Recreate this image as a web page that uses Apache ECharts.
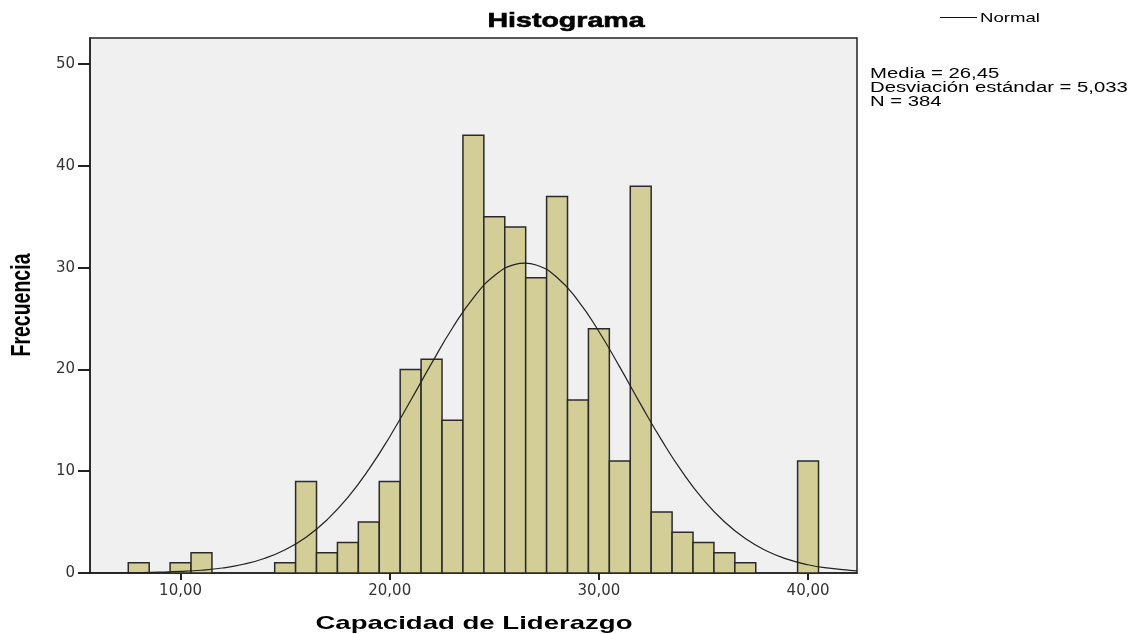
<!DOCTYPE html>
<html>
<head>
<meta charset="utf-8">
<script src="https://cdn.jsdelivr.net/npm/echarts@6/dist/echarts.min.js"></script>
<style>
  html, body { margin: 0; padding: 0; background: #fff; }
  #chart { width: 1132px; height: 634px; }
</style>
</head>
<body>
<div id="chart"></div>
<script>
// histogram bins (centre of each 1-unit bin) and counts
const binCenters = [8, 10, 11, 15, 16, 17, 18, 19, 20, 21, 22, 23, 24, 25, 26, 27, 28, 29, 30, 31, 32, 33, 34, 35, 36, 37, 40];
const binCounts = [1, 1, 2, 1, 9, 2, 3, 5, 9, 20, 21, 15, 43, 35, 34, 29, 37, 17, 24, 11, 38, 6, 4, 3, 2, 1, 11];

// normal curve
const curveX = [5.7, 6, 7, 8, 9, 10, 11, 12, 13, 14, 15, 16, 17, 18, 19, 20, 21, 22, 23, 24, 25, 26, 26.45, 27, 28, 29, 30, 31, 32, 33, 34, 35, 36, 37, 38, 39, 40, 41, 42, 42.34];
const curveY = [0.01, 0.01, 0.02, 0.04, 0.08, 0.15, 0.27, 0.49, 0.86, 1.43, 2.29, 3.52, 5.22, 7.44, 10.18, 13.39, 16.94, 20.59, 24.07, 27.03, 29.2, 30.32, 30.44, 30.26, 29.03, 26.77, 23.73, 20.23, 16.57, 13.05, 9.88, 7.19, 5.03, 3.38, 2.19, 1.36, 0.81, 0.47, 0.26, 0.21];

const xTicks = [10, 20, 30, 40];
const yTicks = [0, 10, 20, 30, 40, 50];
const statsLines = ["Media = 26,45", "Desviación estándar = 5,033", "N = 384"];

const font = "DejaVu Sans";
const arial = "Liberation Sans";
const stretch = 1.43; // the reference picture is widened horizontally

const chart = echarts.init(document.getElementById("chart"), null, { renderer: "canvas" });

const wideText = (text, x, y, size, weight, align, extra, styleExtra) =>
  Object.assign(
    {
      type: "text",
      x: x,
      y: y,
      scaleX: stretch,
      style: Object.assign(
        {
          text: text,
          x: 0,
          y: 0,
          fontFamily: arial,
          fontSize: size,
          fontWeight: weight,
          fill: "#000",
          textAlign: align,
          textVerticalAlign: "middle",
        },
        styleExtra || {},
      ),
    },
    extra || {},
  );

const option = {
  animation: false,
  backgroundColor: "#ffffff",
  grid: {
    left: 90,
    right: 275,
    top: 38,
    bottom: 61,
    outerBoundsMode: "none",
    show: true,
    backgroundColor: "#f0f0f0",
    borderColor: "#222",
    borderWidth: 1.5,
  },
  xAxis: {
    type: "value",
    min: 5.67,
    max: 42.34,
    axisLine: { show: true, onZero: false, lineStyle: { color: "#222", width: 1.5 } },
    axisTick: { show: true, customValues: xTicks, length: 7, lineStyle: { color: "#222", width: 2 } },
    axisLabel: {
      customValues: xTicks,
      margin: 11,
      fontFamily: font,
      fontSize: 15,
      color: "#333",
      formatter: (v) => v.toFixed(2).replace(".", ","),
    },
    splitLine: { show: false },
  },
  yAxis: {
    type: "value",
    min: 0,
    max: 52.56,
    axisLine: { show: true, lineStyle: { color: "#222", width: 1.5 } },
    axisTick: { show: true, customValues: yTicks, length: 12, lineStyle: { color: "#222", width: 2 } },
    axisLabel: { customValues: yTicks, margin: 15, fontFamily: font, fontSize: 15, color: "#333" },
    splitLine: { show: false },
  },
  series: [
    {
      name: "Histograma",
      type: "custom",
      data: binCenters.map((c, i) => [c, binCounts[i]]),
      encode: { x: 0, y: 1 },
      renderItem: (params, api) => {
        const c = api.value(0);
        const v = api.value(1);
        const p0 = api.coord([c - 0.5, v]);
        const p1 = api.coord([c + 0.5, 0]);
        return {
          type: "rect",
          shape: { x: p0[0], y: p0[1], width: p1[0] - p0[0], height: p1[1] - p0[1] },
          style: { fill: "#d3ce97", stroke: "#2a2a2a", lineWidth: 1.5 },
        };
      },
      z: 2,
    },
    {
      name: "Normal",
      type: "line",
      data: curveX.map((x, i) => [x, curveY[i]]),
      smooth: true,
      showSymbol: false,
      lineStyle: { color: "#222", width: 1.2 },
      itemStyle: { color: "#222" },
      z: 3,
    },
  ],
  graphic: [
    // title
    wideText("Histograma", 566, 21, 21, "bold", "center", { scaleX: 1.36 }, { stroke: "#000", lineWidth: 0.6 }),
    // axis names
    wideText("Capacidad de Liderazgo", 474, 623.5, 18.5, "bold", "center", { scaleX: 1.49 }),
    wideText("Frecuencia", 22, 305, 19.5, "bold", "center", { scaleX: 1, scaleY: stretch, rotation: Math.PI / 2 }),
    // legend
    {
      type: "line",
      shape: { x1: 940, y1: 17.5, x2: 977, y2: 17.5 },
      style: { stroke: "#111", lineWidth: 1 },
    },
    wideText("Normal", 980, 18, 13, "normal", "left"),
    // statistics
    wideText(statsLines[0], 870, 74, 14, "normal", "left", { scaleX: 1.45 }),
    wideText(statsLines[1], 870, 88, 14, "normal", "left", { scaleX: 1.45 }),
    wideText(statsLines[2], 870, 102, 14, "normal", "left", { scaleX: 1.45 }),
  ],
};

chart.setOption(option);
</script>
</body>
</html>
